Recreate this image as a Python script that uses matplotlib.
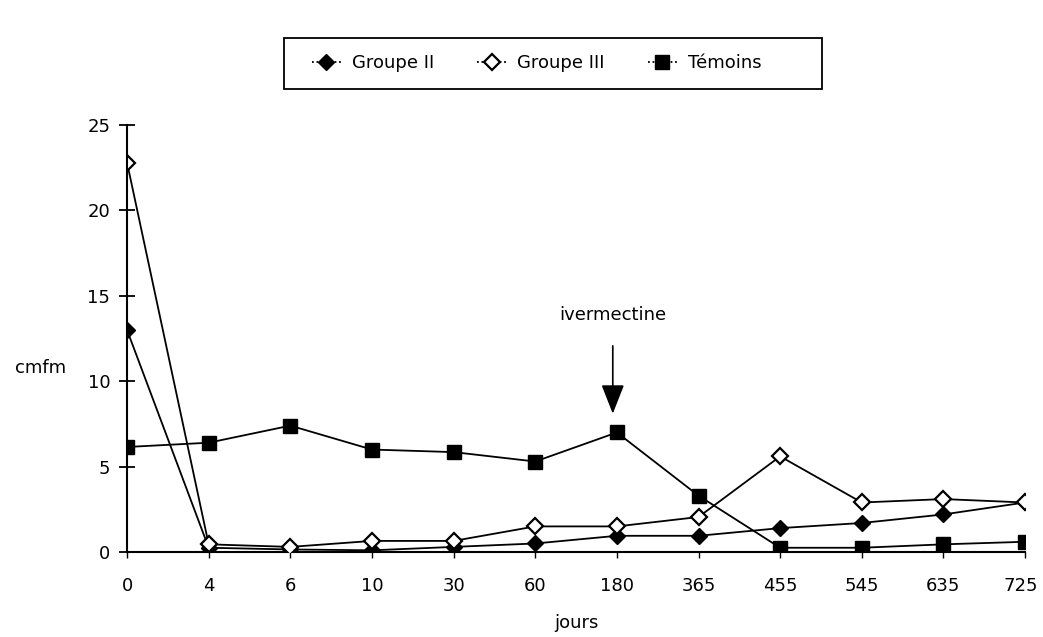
import matplotlib.pyplot as plt
import matplotlib.transforms as mtransforms
from matplotlib.patches import Rectangle
import numpy as np

plt.rcParams["font.family"] = ["DejaVu Sans"]
plt.rcParams["font.size"] = 13

jours = ["0", "4", "6", "10", "30", "60", "180", "365", "455", "545", "635", "725"]
groupe_2 = [13.0, 0.25, 0.15, 0.1, 0.3, 0.5, 0.95, 0.95, 1.4, 1.7, 2.2, 2.9]
groupe_3 = [22.8, 0.45, 0.3, 0.65, 0.65, 1.5, 1.5, 2.05, 5.6, 2.9, 3.1, 2.9]
temoins = [6.15, 6.4, 7.4, 6.0, 5.85, 5.3, 7.0, 3.3, 0.25, 0.25, 0.45, 0.6]

x = np.arange(len(jours))

fig = plt.figure(figsize=(10.43, 6.37), dpi=100)
ax = fig.add_axes([0.1218, 0.1334, 0.861, 0.6703])

ax.plot(x, groupe_2, color="black", lw=1.3, marker="D", ms=8,
        mfc="black", mec="black", label="Groupe II", zorder=3)
ax.plot(x, groupe_3, color="black", lw=1.3, marker="D", ms=8,
        mfc="white", mec="black", mew=1.6, label="Groupe III", zorder=4)
ax.plot(x, temoins, color="black", lw=1.3, marker="s", ms=10,
        mfc="black", mec="black", label="Témoins", zorder=3)

ax.set_xlim(0, 11)
ax.set_ylim(0, 25)
ax.set_xticks(x)
ax.set_xticklabels(jours)
ax.set_yticks(np.arange(0, 26, 5))
ax.spines["top"].set_visible(False)
ax.spines["right"].set_visible(False)
ax.spines["left"].set_linewidth(1.5)
ax.spines["bottom"].set_linewidth(1.5)
ax.spines["left"].set_zorder(5)
ax.tick_params(axis="y", direction="inout", length=12, width=1.3, pad=6)
ax.tick_params(axis="x", direction="out", length=4, width=1, pad=14)

# keep the last tick label inside the picture
last = ax.get_xticklabels()[-1]
last.set_transform(last.get_transform() +
                   mtransforms.ScaledTranslation(-4 / 100, 0, fig.dpi_scale_trans))

ax.set_xlabel("jours", fontsize=13)
ax.xaxis.set_label_coords(0.5, -0.145)
ax.set_ylabel("cmfm", fontsize=13, rotation=0, va="center", ha="left")
ax.yaxis.set_label_coords(-0.125, 0.43)

ax.annotate("ivermectine", xy=(5.95, 8.1), xytext=(5.95, 13.9),
            ha="center", va="center", fontsize=13,
            arrowprops=dict(arrowstyle="-|>,head_length=1.4,head_width=0.55",
                            color="black", lw=1.2, shrinkA=14, shrinkB=0))

fig.patches.append(Rectangle((284 / 1043, 1 - 89 / 637), 538 / 1043, 51 / 637,
                             transform=fig.transFigure, fill=False,
                             edgecolor="black", lw=1.3))
leg = fig.legend(loc="center", bbox_to_anchor=(0.5145, 0.901), ncol=3,
                 frameon=False, handlelength=1.6, columnspacing=2.4,
                 fontsize=13, handletextpad=0.6)
for h in leg.legend_handles:
    h.set_linestyle((0, (1, 1.5)))

fig.savefig("out.png", dpi=100)
